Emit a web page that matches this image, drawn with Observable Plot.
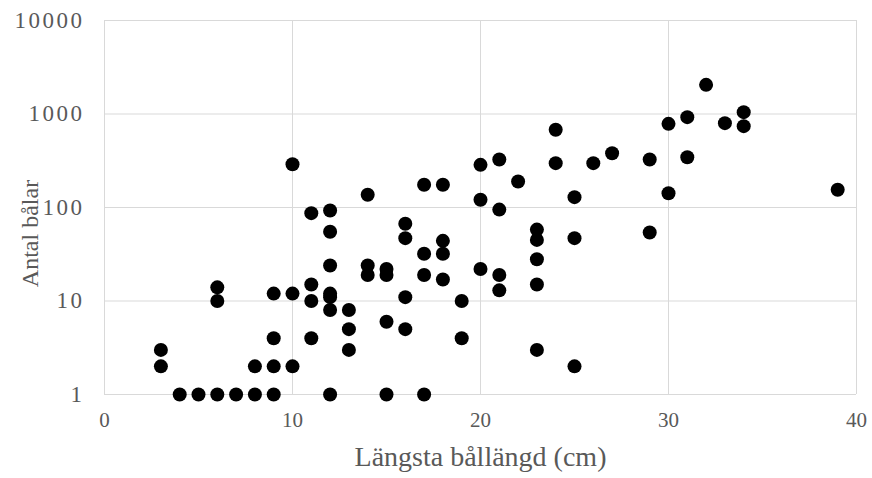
<!DOCTYPE html>
<html>
<head>
<meta charset="utf-8">
<script src="https://cdn.jsdelivr.net/npm/d3@7"></script>
<script src="https://cdn.jsdelivr.net/npm/@observablehq/plot@0.6"></script>
<style>
  html, body { margin: 0; padding: 0; background: #ffffff; }
  #chart { width: 872px; height: 478px; }
</style>
</head>
<body>
<div id="chart"></div>
<script>
// Längsta bållängd (cm) for each observation
const lengthCm = [
  3, 3,
  4,
  5,
  6, 6, 6,
  7,
  8, 8,
  9, 9, 9, 9,
  10, 10, 10,
  11, 11, 11, 11,
  12, 12, 12, 12, 12, 12, 12,
  13, 13, 13,
  14, 14, 14,
  15, 15, 15, 15,
  16, 16, 16, 16,
  17, 17, 17, 17,
  18, 18, 18, 18,
  19, 19,
  20, 20, 20,
  21, 21, 21, 21,
  22,
  23, 23, 23, 23, 23,
  24, 24,
  25, 25, 25,
  26,
  27,
  29, 29,
  30, 30,
  31, 31,
  32,
  33,
  34, 34,
  39
];
// Antal bålar for each observation (same order)
const countBalar = [
  3, 2,
  1,
  1,
  14, 10, 1,
  1,
  2, 1,
  12, 4, 2, 1,
  290, 12, 2,
  87, 15, 10, 4,
  93, 55, 24, 12, 11, 8, 1,
  8, 5, 3,
  137, 24, 19,
  22, 19, 6, 1,
  67, 47, 11, 5,
  175, 32, 19, 1,
  175, 44, 32, 17,
  10, 4,
  286, 121, 22,
  326, 95, 19, 13,
  190,
  58, 45, 28, 15, 3,
  678, 298,
  129, 47, 2,
  298,
  381,
  326, 54,
  785, 142,
  925, 345,
  2050,
  798,
  1047, 741,
  155
];
const xTicks = [0, 10, 20, 30, 40];
const yTicks = [1, 10, 100, 1000, 10000];
const xTitle = "Längsta bållängd (cm)";
const yTitle = "Antal bålar";

const points = lengthCm.map((x, i) => ({x, y: countBalar[i]}));

const gray = "#595959";
const chart = Plot.plot({
  width: 872,
  height: 478,
  marginLeft: 104,
  marginRight: 16,
  marginTop: 20,
  marginBottom: 84,
  style: {fontFamily: "'Liberation Serif', 'Times New Roman', serif", background: "#ffffff"},
  x: {domain: [0, 40]},
  y: {type: "log", domain: [1, 10000]},
  marks: [
    Plot.gridX(xTicks, {stroke: "#d9d9d9", strokeOpacity: 1}),
    Plot.gridY(yTicks, {stroke: "#d9d9d9", strokeOpacity: 1}),
    Plot.axisX(xTicks, {tickSize: 0, tickPadding: 18, fontSize: 21, fill: gray, label: null}),
    Plot.axisY(yTicks, {tickSize: 0, tickPadding: 20, fontSize: 23, fill: gray, label: null, tickFormat: d => String(d)}),
    Plot.dot(points, {x: "x", y: "y", r: 7, fill: "#000000", stroke: "none"}),
    Plot.text([xTitle], {frameAnchor: "bottom", dy: 71, fontSize: 28, fill: gray}),
    Plot.text([yTitle], {frameAnchor: "left", textAnchor: "middle", rotate: -90, dx: -74, dy: 26, fontSize: 24, fill: gray})
  ]
});
d3.select(chart).selectAll('g[aria-label="y-axis tick label"] text').attr("letter-spacing", "2.5px");
document.getElementById("chart").appendChild(chart);
</script>
</body>
</html>
